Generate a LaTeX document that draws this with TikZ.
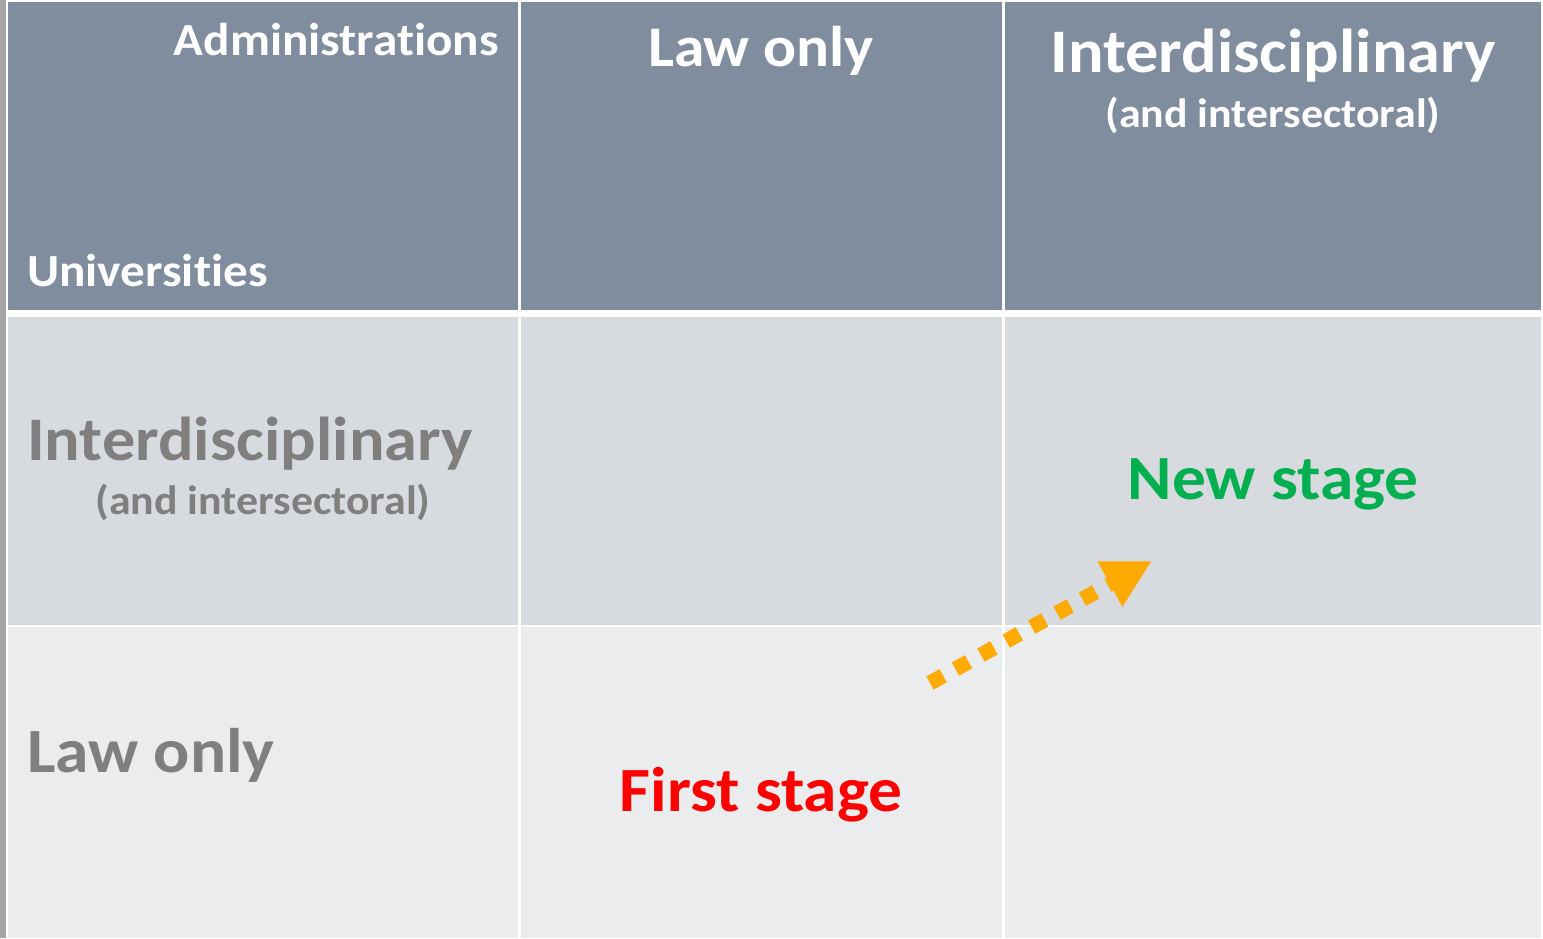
\documentclass[tikz,border=0pt]{standalone}
\usepackage{fontspec}
\setmainfont{Carlito}[Ligatures={NoCommon}, FakeStretch=1.07]
\usetikzlibrary{arrows.meta}
\definecolor{hdr}{HTML}{808D9E}
\definecolor{rowa}{HTML}{D7DADF}
\definecolor{rowb}{HTML}{EBECEE}
\definecolor{strip}{HTML}{A6A6A6}
\definecolor{txtgray}{HTML}{7F7F7F}
\definecolor{newgreen}{HTML}{00B050}
\definecolor{orangearr}{HTML}{FFAA00}
\tikzset{
  lbl/.style={inner sep=0pt, font=\bfseries},
}
\newcommand{\fs}[1]{\fontsize{#1}{#1}\selectfont}
\begin{document}
\begin{tikzpicture}[x=1pt,y=-1pt]
\useasboundingbox[fill=white] (0,0) rectangle (1543,938);
\fill[strip] (0,0) rectangle (6,938);
% header
\fill[hdr] (8,2) rectangle (518,310);
\fill[hdr] (521,2) rectangle (1002,310);
\fill[hdr] (1005,2) rectangle (1541,310);
% row 2
\fill[rowa] (8,317) rectangle (518,625);
\fill[rowa] (521,317) rectangle (1002,625);
\fill[rowa] (1005,317) rectangle (1541,625);
% row 3
\fill[rowb] (8,627) rectangle (518,938);
\fill[rowb] (521,627) rectangle (1002,938);
\fill[rowb] (1005,627) rectangle (1541,938);
% texts
\node[lbl, anchor=base east, text=white, font=\bfseries\fs{46}] (adm) at (499,55) {Administrations};
\node[lbl, anchor=base west, text=white, font=\bfseries\fs{46}] (uni) at (27,286) {Universities};
\node[lbl, anchor=base, text=white, font=\bfseries\fs{57.5}] (lawh) at (761,66) {Law only};
\node[lbl, anchor=base, text=white, font=\bfseries\fs{62}] (interh) at (1273,72) {Interdisciplinary};
\node[lbl, anchor=base, text=white, font=\bfseries\fs{41}] (andh) at (1273,127) {(and intersectoral)};
\node[lbl, anchor=base west, text=txtgray, font=\bfseries\fs{62}] (interl) at (27,460) {Interdisciplinary};
\node[lbl, anchor=base, text=txtgray, font=\bfseries\fs{41}] (andl) at (263,514) {(and intersectoral)};
\node[lbl, anchor=base west, text=txtgray, font=\bfseries\fs{63}] (lawl) at (27,772) {Law only};
\node[lbl, anchor=base, text=newgreen, font=\bfseries\fs{63}] (new) at (1273,499) {New stage};
\node[lbl, anchor=base, text=red, font=\bfseries\fs{63}] (first) at (761,811) {First stage};
% arrow
\coordinate (as) at (930,683);
\coordinate (ae) at (1152,561);
\draw[orangearr, line width=15pt, dash pattern=on 15pt off 14pt, -{Triangle[length=48pt,width=48pt]}] (as) -- (ae);
\end{tikzpicture}
\end{document}
